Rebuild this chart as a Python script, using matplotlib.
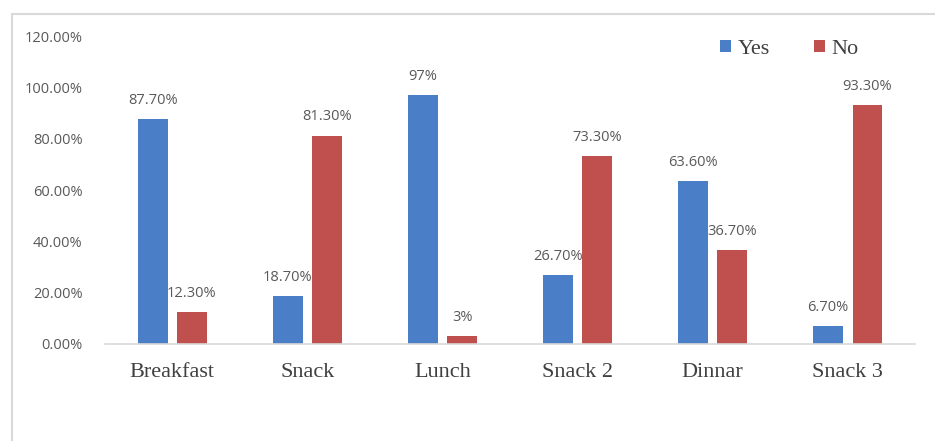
import numpy as np
import matplotlib.pyplot as plt
from matplotlib.patches import Rectangle
from matplotlib.ticker import FuncFormatter

# meals and share of yes / no answers
meals = ["Breakfast", "Snack", "Lunch", "Snack 2", "Dinnar", "Snack 3"]
yes = [87.7, 18.7, 97.0, 26.7, 63.6, 6.7]
no = [12.3, 81.3, 3.0, 73.3, 36.7, 93.3]
yes_labels = ["87.70%", "18.70%", "97%", "26.70%", "63.60%", "6.70%"]
no_labels = ["12.30%", "81.30%", "3%", "73.30%", "36.70%", "93.30%"]

blue = "#4A7EC7"
red = "#C0504D"
grey = "#595959"

fig = plt.figure(figsize=(9.35, 4.41), dpi=100)
ax = fig.add_axes([0.112, 0.221, 0.867, 0.696])

x = np.arange(len(meals))
w = 0.22
b1 = ax.bar(x - 0.145, yes, w, color=blue, label="Yes")
b2 = ax.bar(x + 0.145, no, w, color=red, label="No")

for bars, labs in ((b1, yes_labels), (b2, no_labels)):
    for bar, lab in zip(bars, labs):
        ax.annotate(lab, (bar.get_x() + bar.get_width() / 2, bar.get_height()),
                    xytext=(0, 8), textcoords="offset points", ha="center",
                    va="bottom", fontsize=10.5, color=grey, family="Open Sans")

ax.set_ylim(0, 120)
ax.set_yticks(np.arange(0, 121, 20))
ax.yaxis.set_major_formatter(FuncFormatter(lambda v, p: "%.2f%%" % v))
ax.set_xlim(-0.5, len(meals) - 0.5)
ax.set_xticks(x)
ax.set_xticklabels(meals, family="Liberation Serif", fontsize=16, color="#404040")
for lab in ax.get_yticklabels():
    lab.set_family("Open Sans")
    lab.set_fontsize(10.5)
    lab.set_color(grey)

ax.tick_params(axis="both", length=0)
ax.tick_params(axis="x", pad=14)
ax.tick_params(axis="y", pad=16)
for s in ("top", "right", "left"):
    ax.spines[s].set_visible(False)
ax.spines["bottom"].set_color("#d9d9d9")
ax.spines["bottom"].set_linewidth(1.2)

leg = ax.legend(loc="upper right", bbox_to_anchor=(0.955, 1.055), ncol=2,
                frameon=False, handlelength=0.5, handleheight=0.5,
                handletextpad=0.3, columnspacing=2.0,
                prop={"family": "Liberation Serif", "size": 16})
for t in leg.get_texts():
    t.set_color("#404040")

# outer chart frame
fig.patches.append(Rectangle((12 / 935, -0.2), 1.2, (441 - 14) / 441 + 0.2,
                             transform=fig.transFigure, fill=False,
                             edgecolor="#d9d9d9", linewidth=1.5))

fig.savefig("out.png", dpi=100)
